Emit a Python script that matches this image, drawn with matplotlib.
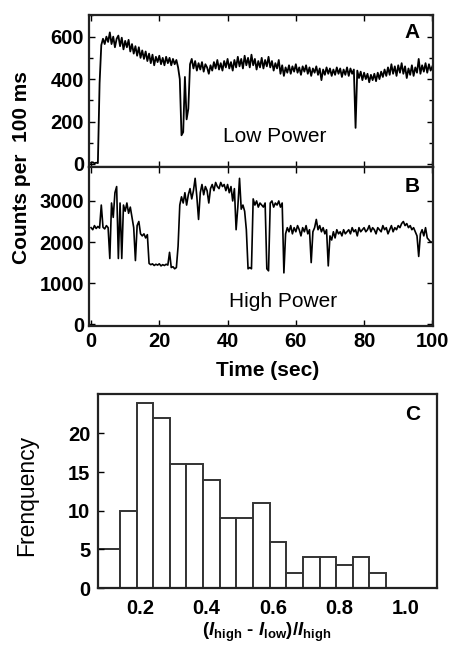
import matplotlib
matplotlib.use('Agg')
import matplotlib.pyplot as plt
import numpy as np
from matplotlib.ticker import MultipleLocator, FixedLocator, FormatStrFormatter

# ---------------- data ----------------
time_s = np.arange(0, 100.5, 0.5)

counts_low = [
    5, 8, 3, 6, 4, 380, 560, 590, 565, 600,
    575, 620, 565, 600, 550, 590, 605, 555, 595, 540,
    580, 550, 585, 530, 565, 520, 555, 510, 550, 500,
    535, 495, 530, 485, 520, 475, 515, 465, 505, 480,
    510, 470, 500, 465, 505, 475, 500, 465, 495, 470,
    490, 455, 400, 135, 150, 410, 210, 260, 470, 495,
    450, 485, 440, 475, 445, 480, 435, 470, 455, 425,
    465, 440, 480, 450, 490, 445, 475, 440, 485, 455,
    495, 450, 480, 440, 490, 455, 505, 460, 495, 450,
    510, 465, 500, 455, 515, 465, 495, 445, 485, 455,
    500, 450, 490, 460, 505, 455, 485, 440, 475, 450,
    490, 425, 465, 415, 455, 430, 465, 425, 460, 435,
    470, 430, 455, 420, 460, 435, 465, 425, 455, 415,
    450, 430, 460, 420, 450, 395, 445, 420, 455, 425,
    450, 415, 445, 420, 455, 425, 450, 410, 445, 420,
    455, 415, 450, 425, 445, 170, 440, 405, 435, 395,
    430, 400, 425, 385, 420, 395, 425, 390, 430, 400,
    435, 410, 445, 415, 455, 420, 470, 425, 460, 415,
    465, 430, 475, 425, 460, 405, 450, 420, 465, 415,
    455, 430, 495, 425, 465, 435, 475, 430, 470, 440,
    460,
]

counts_high = [
    2350, 2300, 2400, 2330, 2380, 2340, 2900, 2360, 2320, 2400,
    2350, 1600, 2950, 2600, 3200, 3350, 1600, 2950, 1600, 2900,
    2750, 2950, 2700, 2850, 2600, 2350, 1550, 2400, 2500, 2200,
    2150, 2200, 2100, 2180, 1480, 1450, 1470, 1430, 1460, 1440,
    1470, 1420, 1450, 1430, 1460, 1440, 1750, 1380, 1400, 1350,
    1380, 1900, 2900, 3100, 2950, 3200, 2900, 3150, 3300, 3050,
    3250, 3550, 3100, 2550, 3200, 3400, 3150, 3350, 3250, 2950,
    3300, 3400, 3250, 3450, 3350, 3300, 3450, 3350, 3400, 3250,
    3400, 3200, 3350, 3000, 3300, 2300, 2850, 3550, 2800, 2900,
    2750, 2300, 1350, 1380, 1350, 3050, 2900, 3000, 2850, 2950,
    2900, 2850, 2950, 1350, 1300, 2950, 3000, 2850, 2950, 2900,
    3000, 2850, 2950, 1250, 2200, 2350, 2250, 2400, 2200, 2350,
    2250, 2400, 2300, 2150, 2350, 2250, 2400, 2200, 2300, 1500,
    2250, 2350, 2550, 2300, 2400, 2250, 2350, 2200, 2300, 1420,
    2150, 2050, 2250, 2100, 2300, 2200, 2250, 2150, 2300, 2200,
    2250, 2300, 2200, 2350, 2250, 2300, 2150, 2350, 2250, 2300,
    2350, 2250, 2300, 2400, 2250, 2350, 2300, 2200, 2350, 2300,
    2250, 2400, 2300, 2350, 2200, 2300, 2400, 2250, 2350, 2300,
    2400, 2350, 2450, 2500, 2400, 2450, 2350, 2400, 2300, 2350,
    2250, 2150, 1650, 2200, 2300, 2150, 2350, 2100, 2050, 2000,
    2000,
]

hist_edges = [0.074, 0.14, 0.19, 0.24, 0.29, 0.34, 0.39, 0.44, 0.49,
              0.54, 0.59, 0.64, 0.69, 0.74, 0.79, 0.84, 0.89, 0.94]
hist_counts = [5, 10, 24, 22, 16, 16, 14, 9, 9, 11, 6, 2, 4, 4, 3, 4, 2]

time_ticks = [0, 20, 40, 60, 80, 100]
low_ticks = [0, 200, 400, 600]
high_ticks = [0, 1000, 2000, 3000]
ratio_ticks = [0.2, 0.4, 0.6, 0.8, 1.0]
freq_ticks = [0, 5, 10, 15, 20]

# ---------------- style ----------------
plt.rcParams['font.family'] = ['Liberation Sans', 'DejaVu Sans']
plt.rcParams['font.weight'] = 'bold'
plt.rcParams['mathtext.fontset'] = 'custom'
plt.rcParams['mathtext.rm'] = 'Liberation Sans:bold'
plt.rcParams['mathtext.bf'] = 'Liberation Sans:bold'
plt.rcParams['mathtext.it'] = 'Liberation Sans:bold:italic'

W, H = 449, 646
fig = plt.figure(figsize=(W / 100, H / 100), dpi=100)

def box(l, t, r, b):
    return [l / W, 1 - b / H, (r - l) / W, (b - t) / H]

axA = fig.add_axes(box(89, 15, 432.7, 166.7))
axB = fig.add_axes(box(89, 166.7, 432.7, 326))
axC = fig.add_axes(box(98, 394, 437, 588))

TS = 14.5
for ax in (axA, axB, axC):
    for s in ax.spines.values():
        s.set_linewidth(1.6)
        s.set_color('#222222')

# Panel A
axA.plot(time_s, counts_low, color='black', lw=1.3)
axA.set_xlim(-0.6, 100.1)
axA.set_ylim(-13, 702)
axA.xaxis.set_major_locator(FixedLocator(time_ticks))
axA.yaxis.set_major_locator(FixedLocator(low_ticks))
axA.yaxis.set_minor_locator(MultipleLocator(100))
axA.tick_params(which='both', direction='in', top=True, right=True,
                labelbottom=False, labelsize=TS, pad=3.5, width=1)
axA.tick_params(which='major', length=4)
axA.tick_params(which='minor', length=3)

# Panel B
axB.plot(time_s, counts_high, color='black', lw=1.2)
axB.set_xlim(-0.6, 100.1)
axB.set_ylim(-42, 3833)
axB.xaxis.set_major_locator(FixedLocator(time_ticks))
axB.yaxis.set_major_locator(FixedLocator(high_ticks))
axB.tick_params(which='both', direction='in', top=True, right=True,
                labelsize=TS, pad=3.5, width=1, length=4)
axB.tick_params(axis='x', pad=4)

# Panel C
axC.bar(hist_edges[:-1], hist_counts, width=np.diff(hist_edges), align='edge',
        facecolor='white', edgecolor='#333333', linewidth=1.4)
axC.set_xlim(0.074, 1.093)
axC.set_ylim(0, 25.1)
axC.xaxis.set_major_locator(FixedLocator(ratio_ticks))
axC.xaxis.set_major_formatter(FormatStrFormatter('%.1f'))
axC.yaxis.set_major_locator(FixedLocator(freq_ticks))
axC.tick_params(axis='x', length=0, labelsize=TS, pad=8)
axC.tick_params(axis='y', direction='in', length=4, width=1, labelsize=TS, pad=5.5)

# Texts
def ftext(x, y, s, **kw):
    fig.text(x / W, 1 - y / H, s, **kw)

ftext(22, 168, 'Counts per  100 ms', rotation=90, ha='center', va='center',
      fontsize=15, fontweight='bold')
ftext(268, 371, 'Time (sec)', ha='center', va='center', fontsize=15, fontweight='bold')
ftext(27, 495, 'Frenquency', rotation=90, ha='center', va='center',
      fontsize=16.5, fontweight='normal')
ftext(267, 644.5, r'($I_{\mathrm{high}}$ - $I_{\mathrm{low}}$)/$I_{\mathrm{high}}$',
      ha='center', va='bottom', fontsize=13.5, fontweight='bold')
ftext(275, 136, 'Low Power', ha='center', va='center', fontsize=15, fontweight='normal')
ftext(283, 301, 'High Power', ha='center', va='center', fontsize=15, fontweight='normal')
ftext(412, 33, 'A', ha='center', va='center', fontsize=15, fontweight='bold')
ftext(412, 187, 'B', ha='center', va='center', fontsize=15, fontweight='bold')
ftext(413, 415, 'C', ha='center', va='center', fontsize=15, fontweight='bold')

fig.savefig('out.png', dpi=100)
